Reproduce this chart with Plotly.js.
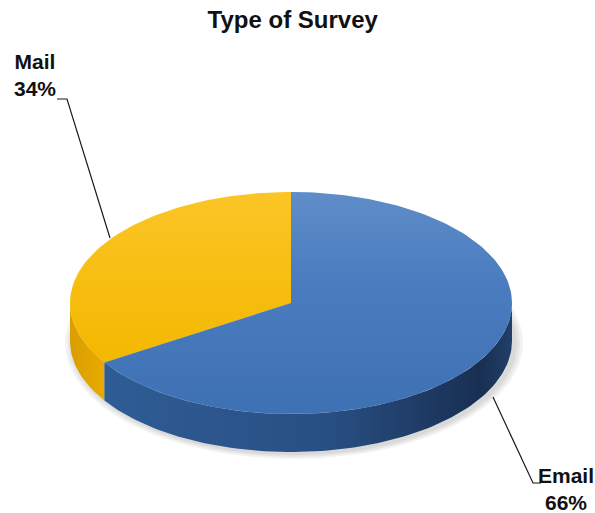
<!DOCTYPE html>
<html>
<head>
<meta charset="utf-8">
<script src="https://cdn.plot.ly/plotly-3.0.1.min.js"></script>
<style>html,body{margin:0;padding:0;background:#fff;}#chart{width:595px;height:513px;}</style>
</head>
<body>
<div id="chart"></div>
<script>
// ---- data ----
const categories = ['Mail', 'Email'];
const values = [34, 66];
const percentLabels = ['34%', '66%'];
const chartTitle = 'Type of Survey';

// ---- style / geometry (not data) ----
const FONT = '"Liberation Sans", Arial, sans-serif';
const geom = {cx: 291, cy: 303, rx: 221, ry: 111, depth: 38, startAngle: 90};
const topColors = [
  [[0, '#f3b800'], [1, '#fbc526']],
  [[0, '#3e70b4'], [0.6, '#4a7cbf'], [1, '#5f8dc8']]
];
const sideColors = [
  [[0, '#d99e00'], [1, '#e8aa00']],
  [[0, '#2f5c95'], [0.55, '#284f83'], [0.92, '#182f52'], [1, '#213f69']]
];

function pt(deg, dy) {
  const r = deg * Math.PI / 180;
  return [geom.cx + geom.rx * Math.cos(r), geom.cy - geom.ry * Math.sin(r) + (dy || 0)];
}
function arc(a, b, dy) {
  const pts = [];
  const n = Math.max(2, Math.ceil(Math.abs(b - a) / 1.5));
  for (let i = 0; i <= n; i++) pts.push(pt(a + (b - a) * i / n, dy));
  return pts;
}

const total = values.reduce((s, v) => s + v, 0);
const slices = [];
let acc = geom.startAngle;
values.forEach((v, i) => {
  const span = v / total * 360;
  slices.push({a: acc, b: acc + span, i: i});
  acc += span;
});

const traces = [];

// soft shadow beneath the pie
[8, 5, 2].forEach(k => {
  const pts = [];
  for (let d = 0; d <= 360; d += 3) {
    const r = d * Math.PI / 180;
    pts.push([geom.cx + 3 + (geom.rx + k) * Math.cos(r), geom.cy + geom.depth + 2 - (geom.ry + k * 0.6) * Math.sin(r)]);
  }
  traces.push({type: 'scatter', mode: 'lines', x: pts.map(p => p[0]), y: pts.map(p => p[1]),
    fill: 'toself', fillcolor: 'rgba(0,0,0,0.05)', line: {width: 0}, hoverinfo: 'skip', showlegend: false});
});

// side walls (visible front half: 180..360 deg)
slices.forEach(s => {
  const ranges = [];
  for (const off of [0, -360, 360]) {
    const lo = Math.max(s.a + off, 180), hi = Math.min(s.b + off, 360);
    if (hi > lo) ranges.push([lo, hi]);
  }
  ranges.forEach(([lo, hi]) => {
    const top = arc(lo, hi, 0);
    const bot = arc(hi, lo, geom.depth);
    const pts = top.concat(bot);
    pts.push(top[0]);
    traces.push({type: 'scatter', mode: 'lines', x: pts.map(p => p[0]), y: pts.map(p => p[1]),
      fill: 'toself', fillgradient: {type: 'horizontal', colorscale: sideColors[s.i]},
      line: {width: 0}, hoverinfo: 'skip', showlegend: false, name: categories[s.i]});
  });
});

// top faces
slices.forEach(s => {
  const pts = [[geom.cx, geom.cy]].concat(arc(s.a, s.b, 0));
  pts.push([geom.cx, geom.cy]);
  traces.push({type: 'scatter', mode: 'lines', x: pts.map(p => p[0]), y: pts.map(p => p[1]),
    fill: 'toself', fillgradient: {type: 'vertical', colorscale: topColors[s.i]},
    line: {width: 0}, hoverinfo: 'skip', showlegend: false, name: categories[s.i]});
});

const labelFont = {family: FONT, size: 21, color: '#111111'};

const layout = {
  width: 595, height: 513,
  margin: {l: 0, r: 0, t: 0, b: 0},
  paper_bgcolor: '#ffffff', plot_bgcolor: '#ffffff',
  showlegend: false,
  title: {text: '<b>' + chartTitle + '</b>', x: 0.492, xanchor: 'center', y: 1 - 20 / 513, yanchor: 'middle', yref: 'container',
    font: {family: FONT, size: 24, color: '#111111'}},
  xaxis: {range: [0, 595], visible: false, fixedrange: true},
  yaxis: {range: [513, 0], visible: false, fixedrange: true},
  shapes: [
    {type: 'path', path: 'M57,99 L67,99 L110,238', line: {color: '#1a1a1a', width: 1.2}},
    {type: 'path', path: 'M493,397 L533,483 L541,483', line: {color: '#1a1a1a', width: 1.2}}
  ],
  annotations: [
    {x: 35, y: 75, xref: 'x', yref: 'y', text: '<b>' + categories[0] + '<br>' + percentLabels[0] + '</b>',
      showarrow: false, xanchor: 'center', yanchor: 'middle', align: 'center', font: labelFont},
    {x: 566, y: 489, xref: 'x', yref: 'y', text: '<b>' + categories[1] + '<br>' + percentLabels[1] + '</b>',
      showarrow: false, xanchor: 'center', yanchor: 'middle', align: 'center', font: labelFont}
  ]
};

Plotly.newPlot('chart', traces, layout, {displayModeBar: false, staticPlot: true});
</script>
</body>
</html>
